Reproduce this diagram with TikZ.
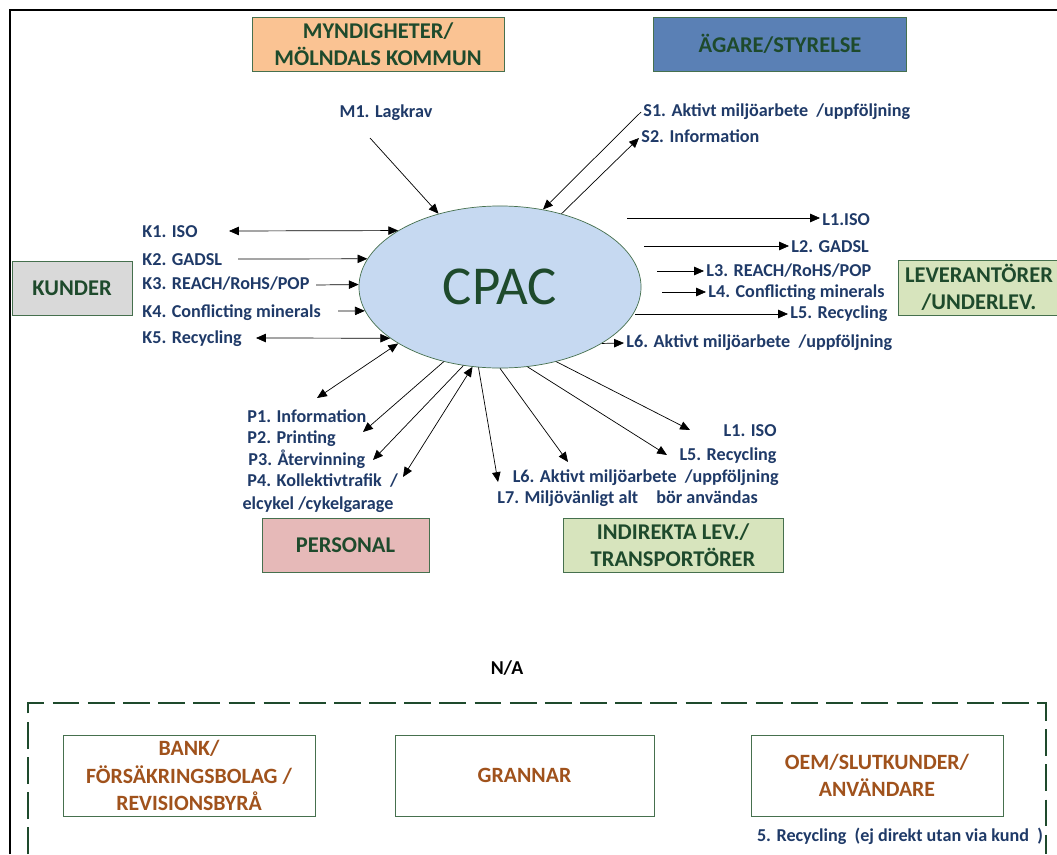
\documentclass[tikz,border=0pt]{standalone}
\usepackage{fontspec}
\setmainfont{Carlito}
\usetikzlibrary{shapes.geometric,arrows.meta,positioning}
\definecolor{lblblue}{HTML}{1F3A68}
\definecolor{boxgreen}{HTML}{1E4A2C}
\definecolor{edgegreen}{HTML}{46704E}
\definecolor{narust}{HTML}{A0521C}
\definecolor{myndfill}{HTML}{FAC393}
\definecolor{agarefill}{HTML}{5A80B5}
\definecolor{kundfill}{HTML}{D9D9D9}
\definecolor{levfill}{HTML}{D7E4BD}
\definecolor{persfill}{HTML}{E6B9B8}
\definecolor{cpacfill}{HTML}{C6D9F1}

\tikzset{
  grp/.style={draw=edgegreen, text=boxgreen, align=center, inner sep=2pt,
    font=\bfseries\fontsize{16}{19.5}\selectfont, minimum height=1.35cm},
  nabox/.style={draw=edgegreen, fill=white, text=narust, align=center, inner sep=2pt,
    font=\bfseries\fontsize{15.5}{19.5}\selectfont, minimum width=6.3cm, minimum height=2.025cm},
  lbl/.style={text=lblblue, font=\bfseries\fontsize{12.9}{15}\selectfont, inner sep=1.5pt,
    text height=8.5pt, text depth=2.5pt},
}

\begin{document}
\begin{tikzpicture}[x=0.025cm, y=-0.025cm, >={Triangle[length=7pt,width=6pt]}, line width=0.5pt]
        \path[use as bounding box, fill=white] (0,0) rectangle (1057,854);
        \draw[line width=1.3pt] (10,854) -- (10,10) -- (1057,10);

        % intressenter
        \node[grp, fill=myndfill, minimum width=6.3cm] (mynd) at (378,44) {MYNDIGHETER/\\MÖLNDALS KOMMUN};
        \node[grp, fill=agarefill, minimum width=6.325cm] (agare) at (780,44) {ÄGARE/STYRELSE};
        \node[grp, fill=kundfill, minimum width=3cm] (kunder) at (72,288) {KUNDER};
        \node[grp, fill=levfill, minimum width=4.05cm, minimum height=1.375cm] (lev) at (979,287.5) {LEVERANTÖRER\\/UNDERLEV.};
        \node[grp, fill=persfill, minimum width=4.175cm] (pers) at (345.5,545) {PERSONAL};
        \node[grp, fill=levfill, minimum width=5.5cm] (indir) at (673,545) {INDIREKTA LEV./\\TRANSPORTÖRER};

        \node[ellipse, draw=edgegreen, fill=cpacfill, inner sep=0pt, minimum width=7.05cm, minimum height=4.05cm,
          text=boxgreen, font=\fontsize{39}{39}\selectfont] (cpac) at (500,287) {CPAC};

        % krav och flöden
        \node[lbl] (m1) at (386,113) {M1. Lagkrav};
        \node[lbl, anchor=west] (s1) at (641,112) {S1. Aktivt miljöarbete~ /uppföljning};
        \node[lbl, anchor=west] (s2) at (639,138) {S2. Information};

        \node[lbl, anchor=west] (k1) at (140,233) {K1. ISO};
        \node[lbl, anchor=west] (k2) at (140,261) {K2. GADSL};
        \node[lbl, anchor=west] (k3) at (140,285) {K3. REACH/RoHS/POP};
        \node[lbl, anchor=west] (k4) at (140,313) {K4. Conflicting minerals};
        \node[lbl, anchor=west] (k5) at (140,339) {K5. Recycling};

        \node[lbl, anchor=west] (l1) at (820,221) {L1.ISO};
        \node[lbl, anchor=west] (l2) at (789,248) {L2. GADSL};
        \node[lbl, anchor=west] (l3) at (704,272) {L3. REACH/RoHS/POP};
        \node[lbl, anchor=west] (l4) at (706,293) {L4. Conflicting minerals};
        \node[lbl, anchor=west] (l5) at (788,314) {L5. Recycling};
        \node[lbl, anchor=west] (l6) at (624,343) {L6. Aktivt miljöarbete~ /uppföljning};

        \node[lbl, anchor=west] (p1) at (245,418) {P1. Information};
        \node[lbl, anchor=west] (p2) at (245,439) {P2. Printing};
        \node[lbl, anchor=west] (p3) at (246,461) {P3. Återvinning};
        \node[lbl, anchor=west] (p4) at (245,482) {P4. Kollektivtrafik~ /};
        \node[lbl] (p4b) at (318,505) {elcykel /cykelgarage};

        \node[lbl, anchor=east] (li1) at (779,432) {L1. ISO};
        \node[lbl, anchor=east] (li5) at (779,456) {L5. Recycling};
        \node[lbl, anchor=east] (li6) at (781,478) {L6. Aktivt miljöarbete~ /uppföljning};
        \node[lbl, anchor=west] (li7) at (495,499) {L7. Miljövänligt alt\quad bör användas};

        % ej aktuella
        \node[font=\bfseries\fontsize{14}{16}\selectfont] (na) at (507,668) {N/A};
        \draw[boxgreen, line width=2pt, dash pattern=on 19pt off 6pt] (28,854) -- (28,703) -- (1046,703) -- (1046,854);
        \node[nabox] (bank) at (189,775.5) {BANK/\\FÖRSÄKRINGSBOLAG /\\REVISIONSBYRÅ};
        \node[nabox, minimum width=6.475cm] (grannar) at (524.5,775.5) {GRANNAR};
        \node[nabox] (oem) at (877,775.5) {OEM/SLUTKUNDER/\\ANVÄNDARE};
        \node[lbl] (recyc) at (900,837) {5. Recycling~ (ej direkt utan via kund~ )};

        \coordinate (m1s) at (370,138);
        \coordinate (k1s) at (229,231);
        \coordinate (k2s) at (238,259);
        \coordinate (k3s) at (316,285);
        \coordinate (k4s) at (338,311);
        \coordinate (k5s) at (256,338);
        \coordinate (l1s) at (627,218);
        \coordinate (l2s) at (644,246);
        \coordinate (l3s) at (657,271);
        \coordinate (l4s) at (662,292);
        \coordinate (l5s) at (635,314);
        \coordinate (p1e) at (317,398);
        \coordinate (p2e) at (363,432);
        \coordinate (p3e) at (373,460);
        \coordinate (p4e) at (403,477);
        \coordinate (li7e) at (498,482);
        \coordinate (li6e) at (568,462);
        \coordinate (li5e) at (667,455);
        \coordinate (li1e) at (690,430);

        \path (m1s) edge[->] (cpac.130)
        (s1.west) edge[->] (cpac.61)
        (cpac.50) edge[->] (s2.west)
        (k1s) edge[<->] (cpac.151)
        (k2s) edge[->] (cpac.168)
        (k3s) edge[->] (cpac.179)
        (k4s) edge[->] (cpac.190)
        (k5s) edge[<->] (cpac.205)
        (l1s) edge[->] (l1s -| l1.west)
        (l2s) edge[->] (l2s -| l2.west)
        (l3s) edge[->] (l3s -| l3.west)
        (l4s) edge[->] (l4s -| l4.west)
        (l5s) edge[->] (l5s -| l5.west)
        (cpac.331) edge[->] (l6.west)
        (cpac.209) edge[<->] (p1e)
        (cpac.233) edge[->] (p2e)
        (cpac.245) edge[->] (p3e)
        (cpac.251) edge[<->] (p4e)
        (cpac.255) edge[->] (li7e)
        (cpac.270) edge[->] (li6e)
        (cpac.289) edge[->] (li5e)
        (cpac.307) edge[->] (li1e);
\end{tikzpicture}
\end{document}
